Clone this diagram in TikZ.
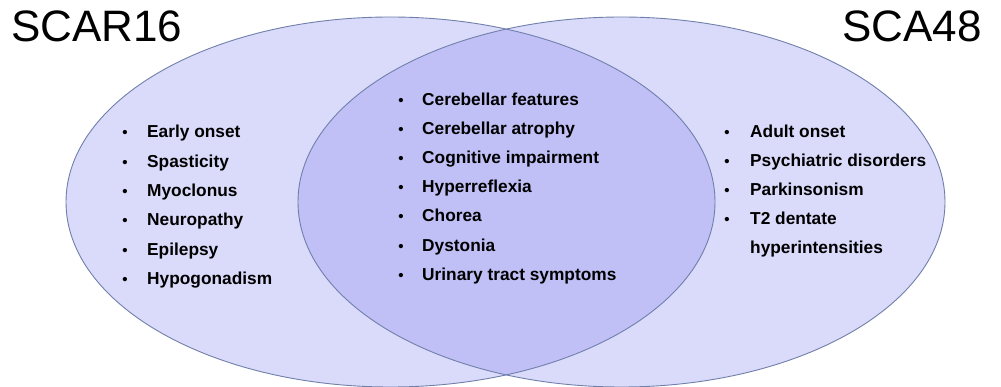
\documentclass[tikz,border=0pt]{standalone}
\usepackage{fontspec}
\setmainfont{Liberation Sans}
\definecolor{outerfill}{RGB}{218,218,250}
\definecolor{innerfill}{RGB}{192,192,247}
\definecolor{edge}{RGB}{112,128,170}
\begin{document}
\begin{tikzpicture}[x=1pt,y=-1pt,
  item/.style={anchor=base west,font=\fontsize{17.3}{20}\selectfont\bfseries,inner sep=0pt},
  bul/.style={anchor=base,font=\fontsize{15}{18}\selectfont\bfseries,inner sep=0pt},
  title/.style={anchor=base west,font=\fontsize{44}{50}\selectfont,inner sep=0pt}]
\useasboundingbox (0,0) rectangle (1001,387);
\fill[white] (0,0) rectangle (1001,387);
\fill[outerfill] (390.5,202) ellipse [x radius=324.5,y radius=185];
\fill[outerfill] (621.5,202) ellipse [x radius=323.5,y radius=185];
\begin{scope}
  \clip (390.5,202) ellipse [x radius=324.5,y radius=185];
  \fill[innerfill] (621.5,202) ellipse [x radius=323.5,y radius=185];
\end{scope}
\draw[edge,line width=0.9pt] (390.5,202) ellipse [x radius=324.5,y radius=185];
\draw[edge,line width=0.9pt] (621.5,202) ellipse [x radius=323.5,y radius=185];

\node[title] (t1) at (11,42) {SCAR16};
\node[title] (t2) at (842,42) {SCA48};

% left list
\foreach \y/\t [count=\i] in {138/Early onset,168/Spasticity,197/Myoclonus,226/Neuropathy,256/Epilepsy,285/Hypogonadism}{
  \node[bul] (lb\i) at (125,\y) {•};
  \node[item] (l\i) at (147,\y) {\t};
}
% middle list
\foreach \y/\t [count=\i] in {106/Cerebellar features,135/Cerebellar atrophy,164/Cognitive impairment,193/Hyperreflexia,222/Chorea,252/Dystonia,281/Urinary tract symptoms}{
  \node[bul] (mb\i) at (401,\y) {•};
  \node[item] (m\i) at (422,\y) {\t};
}
% right list
\foreach \y/\t [count=\i] in {138/Adult onset,167/Psychiatric disorders,196/Parkinsonism,225/T2 dentate}{
  \node[bul] (rb\i) at (727,\y) {•};
  \node[item] (r\i) at (750,\y) {\t};
}
\node[item] (r5) at (750,254) {hyperintensities};
\end{tikzpicture}
\end{document}
